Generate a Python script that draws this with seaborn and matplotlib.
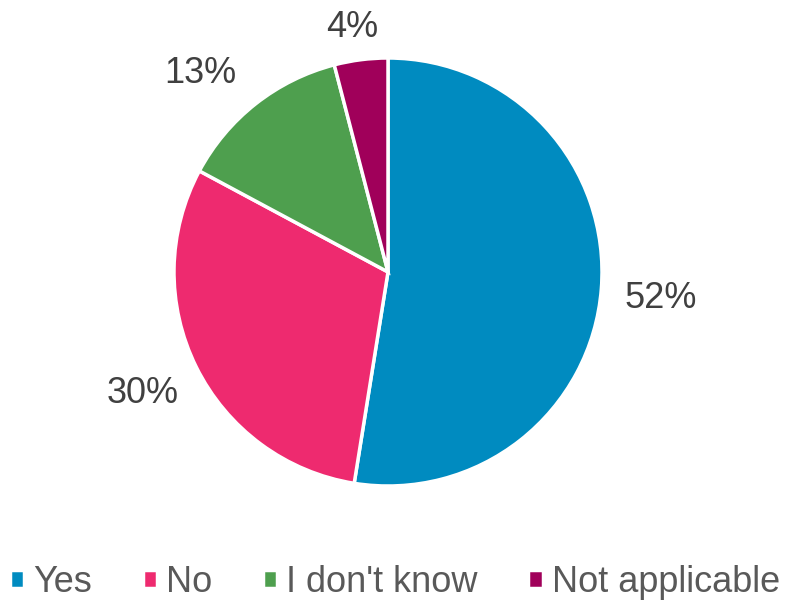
import numpy as np
import matplotlib
matplotlib.use('Agg')
import matplotlib.pyplot as plt
import seaborn as sns

categories = ['Yes', 'No', "I don't know", 'Not applicable']
shares = [52, 30, 13, 4]
colors = ['#008BC0', '#EE2A6F', '#4E9F4E', '#A0005A']

sns.set_style('white')
plt.rcParams['font.family'] = ['Liberation Sans', 'DejaVu Sans']

fig = plt.figure(figsize=(7.85, 6.01), dpi=100)
# pie centre ~ (388, 272) px, radius ~214 px
ax = fig.add_axes([(388 - 214) / 785, (601 - 272 - 214) / 601, 428 / 785, 428 / 601])

wedges, texts = ax.pie(shares, colors=colors, startangle=90, counterclock=False,
                       labels=[f'{v}%' for v in shares], labeldistance=1.28,
                       wedgeprops=dict(edgecolor='white', linewidth=2.5),
                       textprops=dict(fontsize=26, color='#404040'))
# nudge labels the way the original's "best fit" placement does
nudges = [(1.0, 1.2), (1.0, 1.0), (1.11, 0.92), (1.03, 0.9)]
for t, (fx, fy) in zip(texts, nudges):
    t.set_ha('center')
    t.set_va('center')
    x, y = t.get_position()
    t.set_position((x * fx, y * fy))
ax.set_xlim(-1, 1)
ax.set_ylim(-1, 1)
ax.set_aspect('equal')
ax.axis('off')

fig.legend(wedges, categories, loc='lower center', bbox_to_anchor=(0.503, -0.052), ncol=4,
           frameon=False, fontsize=26, labelcolor='#595959',
           handlelength=0.4, handleheight=0.4, handletextpad=0.25, columnspacing=1.4)

fig.savefig('out.png', dpi=100)
